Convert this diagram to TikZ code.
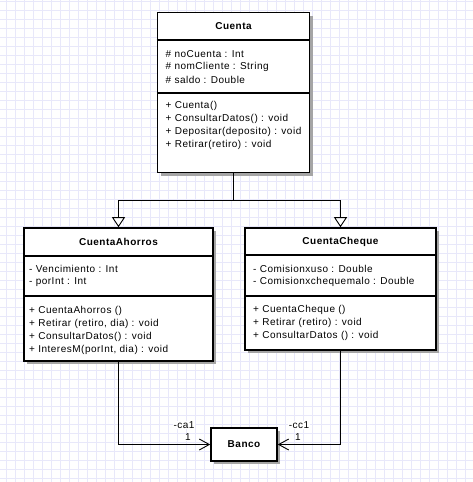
\documentclass[tikz,border=0pt]{standalone}
\usepackage{fontspec}
\setmainfont{Liberation Sans}
\newfontfamily\umlfont[LetterSpace=5]{Liberation Sans}
\usetikzlibrary{arrows.meta,shadows}
\definecolor{gridline}{RGB}{232,232,250}
\definecolor{shadowgray}{RGB}{165,165,165}
\tikzset{
  classbox/.style={draw=black, line width=1.6pt, fill=white, inner sep=0pt,
    drop shadow={shadow xshift=3pt, shadow yshift=-3pt, fill=shadowgray, opacity=1}},
  sepline/.style={line width=1.6pt},
  title/.style={font=\umlfont\fontsize{10}{12}\selectfont\bfseries, inner sep=0pt},
  member/.style={font=\umlfont\fontsize{10}{13}\selectfont, anchor=west, inner sep=0pt},
  inherit/.style={line width=0.9pt, -{Triangle[open, width=13pt, length=10pt, fill=white]}},
  assoc/.style={line width=0.9pt, -{Straight Barb[length=10pt, width=11pt]}},
  rolelabel/.style={font=\umlfont\fontsize{10}{12}\selectfont, inner sep=0.5pt, fill=white}
}
\begin{document}
\begin{tikzpicture}[x=1pt, y=-1pt]
\useasboundingbox (0,0) rectangle (473,482);
\fill[white] (0,0) rectangle (473,482);
% background grid
\foreach \gx in {6,15,...,474} \draw[gridline, line width=0.7pt] (\gx,0) -- (\gx,482);
\foreach \gy in {1,10,...,482} \draw[gridline, line width=0.7pt] (0,\gy) -- (473,\gy);

% class Cuenta
\node[classbox, minimum width=152pt, minimum height=160pt] (cuenta) at (233.5,92.5) {};
\draw[sepline] (cuenta.west |- 0,40) -- (cuenta.east |- 0,40);
\draw[sepline] (cuenta.west |- 0,93) -- (cuenta.east |- 0,93);
\node[title] (cuentaT) at (233.5,26) {Cuenta};
\node[member] (c1) at (165.5,54) {\# noCuenta : Int};
\node[member] (c2) at (165.5,67) {\# nomCliente : String};
\node[member] (c3) at (165.5,80) {\# saldo : Double};
\node[member] (c4) at (165.5,106) {+ Cuenta()};
\node[member] (c5) at (165.5,119) {+ ConsultarDatos() : void};
\node[member] (c6) at (165.5,132) {+ Depositar(deposito) : void};
\node[member] (c7) at (165.5,145) {+ Retirar(retiro) : void};

% class CuentaAhorros
\node[classbox, minimum width=189pt, minimum height=133pt] (ahorros) at (118.5,294.5) {};
\draw[sepline] (ahorros.west |- 0,256) -- (ahorros.east |- 0,256);
\draw[sepline] (ahorros.west |- 0,296) -- (ahorros.east |- 0,296);
\node[title] (ahorrosT) at (118.5,242) {CuentaAhorros};
\node[member] (a1) at (29,268.5) {- Vencimiento : Int};
\node[member] (a2) at (29,282) {- porInt : Int};
\node[member] (a3) at (29,310.5) {+ CuentaAhorros ()};
\node[member] (a4) at (29,323.5) {+ Retirar (retiro, dia) : void};
\node[member] (a5) at (29,336.5) {+ ConsultarDatos() : void};
\node[member] (a6) at (29,349.5) {+ InteresM(porInt, dia) : void};

% class CuentaCheque
\node[classbox, minimum width=191pt, minimum height=122pt] (cheque) at (340.5,289) {};
\draw[sepline] (cheque.west |- 0,255) -- (cheque.east |- 0,255);
\draw[sepline] (cheque.west |- 0,296) -- (cheque.east |- 0,296);
\node[title] (chequeT) at (340.5,242) {CuentaCheque};
\node[member] (q1) at (253,268.5) {- Comisionxuso : Double};
\node[member] (q2) at (253,282) {- Comisionxchequemalo : Double};
\node[member] (q3) at (253,309.5) {+ CuentaCheque ()};
\node[member] (q4) at (253,322.5) {+ Retirar (retiro) : void};
\node[member] (q5) at (253,335.5) {+ ConsultarDatos () : void};

% class Banco
\node[classbox, minimum width=66pt, minimum height=33pt, font=\umlfont\fontsize{10}{12}\selectfont\bfseries] (banco) at (244,444.5) {Banco};

% generalisation
\coordinate (fork) at (233.5,200);
\draw[line width=0.9pt] (cuenta.south) -- (fork);
\draw[inherit] (fork) -| (ahorros.north);
\draw[inherit] (fork) -| (cheque.north);

% associations to Banco
\draw[assoc] (ahorros.south) |- (banco.west);
\draw[assoc] (cheque.south) |- (banco.east);
\node[rolelabel] (ca1) at (184,425) {-ca1};
\node[rolelabel] (ca1m) at (188,437.5) {1};
\node[rolelabel] (cc1) at (299,425) {-cc1};
\node[rolelabel] (cc1m) at (298,437.5) {1};
\end{tikzpicture}
\end{document}
